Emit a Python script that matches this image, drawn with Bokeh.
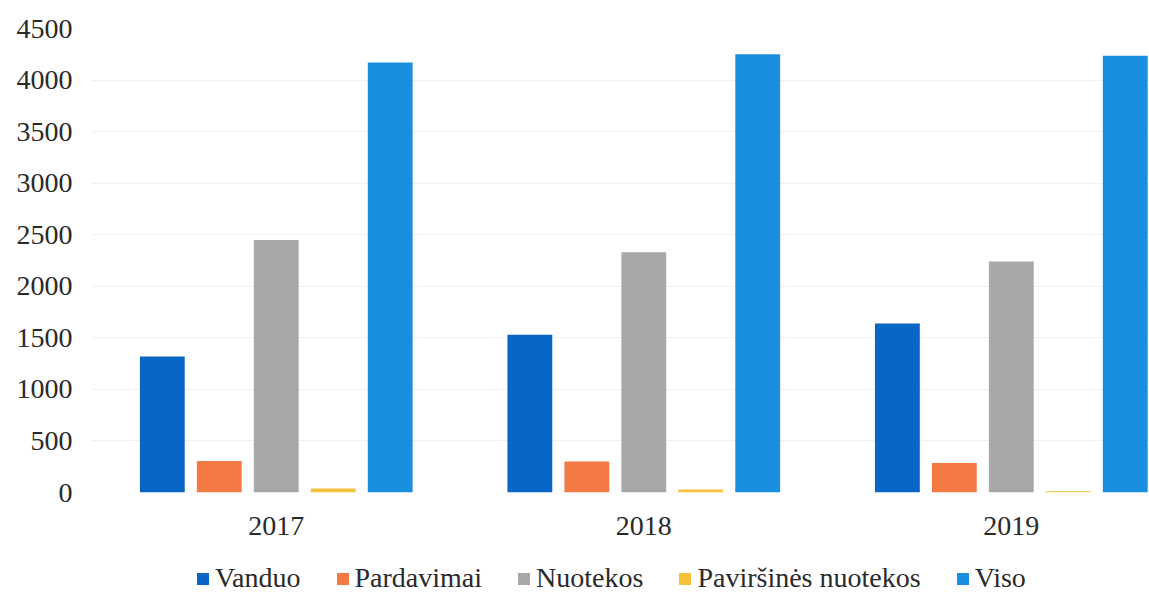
from bokeh.plotting import figure
from bokeh.layouts import column
from bokeh.models import ColumnDataSource, Range1d, FixedTicker, Legend, LegendItem
from bokeh.transform import dodge
from bokeh.embed import file_html
from bokeh.resources import INLINE

years = ["2017", "2018", "2019"]
series = ["Vanduo", "Pardavimai", "Nuotekos", "Paviršinės nuotekos", "Viso"]
vanduo = [1320, 1530, 1640]
pardavimai = [305, 300, 285]
nuotekos = [2450, 2330, 2240]
pavirsines = [40, 30, 12]
viso = [4170, 4250, 4235]
colors = ["#0866c6", "#f47a45", "#a8a8a8", "#f6c23a", "#1a8fe0"]

xpos = [i + 0.5 for i in range(len(years))]
src = ColumnDataSource(dict(x=xpos, v0=vanduo, v1=pardavimai, v2=nuotekos, v3=pavirsines, v4=viso))

p = figure(frame_width=1057, frame_height=464, output_backend="svg", toolbar_location=None,
           x_range=Range1d(0, 2.876), y_range=Range1d(0, 4500),
           min_border_left=92, min_border_right=0, min_border_top=28, min_border_bottom=53)
p.outline_line_color = None

font = "'Liberation Serif', 'Times New Roman', serif"
offsets = [-0.31, -0.155, 0.0, 0.155, 0.31]
for k, (name, col, off) in enumerate(zip(series, colors, offsets)):
    p.vbar(x=dodge("x", off, range=p.x_range), top="v%d" % k, width=0.122,
           bottom=0, source=src, color=col, line_color=None)

p.xaxis.ticker = FixedTicker(ticks=xpos)
p.xaxis.major_label_overrides = {x: y for x, y in zip(xpos, years)}
p.xaxis.axis_line_color = None
p.xaxis.major_tick_line_color = None
p.xaxis.minor_tick_line_color = None
p.xaxis.major_label_standoff = 18
p.xaxis.major_label_text_font = font
p.xaxis.major_label_text_font_size = "28px"
p.xaxis.major_label_text_color = "#2a2a2a"

p.yaxis.ticker = FixedTicker(ticks=list(range(0, 4501, 500)))
p.yaxis.axis_line_color = None
p.yaxis.major_tick_line_color = None
p.yaxis.minor_tick_line_color = None
p.yaxis.major_label_standoff = 14
p.yaxis.major_label_text_font = font
p.yaxis.major_label_text_font_size = "28px"
p.yaxis.major_label_text_color = "#2a2a2a"

p.xgrid.grid_line_color = None
p.ygrid.grid_line_color = "#f0f0f0"

# legend strip below the chart (dummy swatch renderers kept outside the visible range)
lg = figure(frame_width=1149, frame_height=49, output_backend="svg", toolbar_location=None,
            x_range=Range1d(0, 1), y_range=Range1d(0, 1), x_axis_type=None, y_axis_type=None,
            min_border_left=0, min_border_right=0, min_border_top=0, min_border_bottom=0)
lg.outline_line_color = None
lg.xgrid.grid_line_color = None
lg.ygrid.grid_line_color = None
items = []
for name, col in zip(series, colors):
    r = lg.vbar(x=[-5], top=[-5], bottom=[-6], width=0.1, color=col, line_color=None)
    items.append(LegendItem(label=name, renderers=[r]))
legend = Legend(items=items, orientation="horizontal", location=(195, 0),
                label_text_font=font, label_text_font_size="28px", label_text_color="#2a2a2a",
                glyph_width=15, glyph_height=15, label_standoff=5, spacing=34,
                border_line_color=None, background_fill_alpha=0, padding=0, margin=0)
lg.add_layout(legend, "center")

layout = column(p, lg, spacing=0)
open("out.html", "w").write(file_html(layout, INLINE))
